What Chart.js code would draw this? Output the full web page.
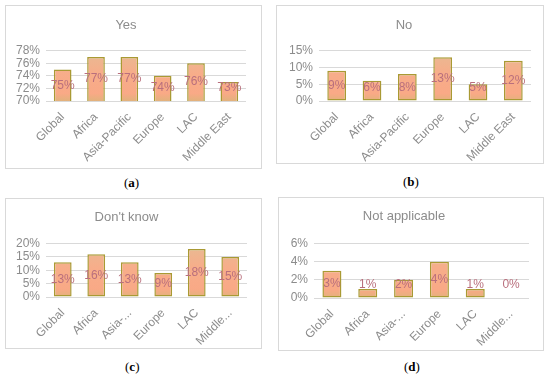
<!DOCTYPE html>
<html>
<head>
<meta charset="utf-8">
<script src="https://cdn.jsdelivr.net/npm/chart.js@4"></script>
<style>
  body { margin: 0; background: #fff; width: 550px; height: 377px; position: relative; overflow: hidden; }
  .box { position: absolute; border: 1px solid #d9d9d9; box-sizing: border-box; }
  .cap { position: absolute; font-family: "Liberation Serif", serif; font-size: 13px; color: #000; }
  .cap b { font-weight: bold; }
</style>
</head>
<body>
<div class="box" id="boxA" style="left:5px;top:5px;width:257px;height:164px;"><canvas id="chartA"></canvas></div>
<div class="box" id="boxB" style="left:276px;top:5px;width:268px;height:159px;"><canvas id="chartB"></canvas></div>
<div class="box" id="boxC" style="left:5px;top:198px;width:257px;height:151px;"><canvas id="chartC"></canvas></div>
<div class="box" id="boxD" style="left:278px;top:197px;width:266px;height:154px;"><canvas id="chartD"></canvas></div>
<div class="cap" style="left:124px;top:175px;">(<b>a</b>)</div>
<div class="cap" style="left:403px;top:174px;">(<b>b</b>)</div>
<div class="cap" style="left:125px;top:359px;">(<b>c</b>)</div>
<div class="cap" style="left:404px;top:359px;">(<b>d</b>)</div>
<script>
// regions
const regions = ['Global', 'Africa', 'Asia-Pacific', 'Europe', 'LAC', 'Middle East'];
const regionsShort = ['Global', 'Africa', 'Asia-...', 'Europe', 'LAC', 'Middle...'];

// percentages per answer
const yesValues = [75, 77, 77, 74, 76, 73];
const noValues = [9, 6, 8, 13, 5, 12];
const dontKnowValues = [13, 16, 13, 9, 18, 15];
const notApplicableValues = [3, 1, 2, 4, 1, 0];

// y axis ticks
const yesTicks = [70, 72, 74, 76, 78];
const noTicks = [0, 5, 10, 15];
const dontKnowTicks = [0, 5, 10, 15, 20];
const notApplicableTicks = [0, 2, 4, 6];

const FONT = '"Liberation Sans", Arial, sans-serif';
const GRAY = '#8c8c8c';

// value labels in the middle of the visible bar, kept a bit above the axis for short bars
const barLabels = {
  id: 'barLabels',
  afterDatasetsDraw(chart) {
    const ctx = chart.ctx;
    const meta = chart.getDatasetMeta(0);
    const axisY = chart.scales.y.bottom;
    ctx.save();
    ctx.font = '12px ' + FONT;
    ctx.fillStyle = '#b96f7d';
    ctx.textAlign = 'center';
    ctx.textBaseline = 'middle';
    meta.data.forEach(function (bar, i) {
      const v = chart.data.datasets[0].data[i];
      const base = Math.min(bar.base, axisY);
      let y = (bar.y + base) / 2;
      if (y > axisY - 13) y = axisY - 13;
      ctx.fillText(v + '%', bar.x, y);
    });
    ctx.restore();
  }
};

function makeChart(id, boxId, title, labels, values, ticks, lay) {
  const box = document.getElementById(boxId);
  const canvas = document.getElementById(id);
  canvas.width = box.clientWidth;
  canvas.height = box.clientHeight;

  return new Chart(canvas.getContext('2d'), {
    type: 'bar',
    data: {
      labels: labels,
      datasets: [{
        data: values,
        backgroundColor: function (context) {
          const area = context.chart.chartArea;
          if (!area) return '#f6ad88';
          const g = context.chart.ctx.createLinearGradient(0, area.top, 0, area.bottom);
          g.addColorStop(0, '#e7bb93');
          g.addColorStop(0.45, '#f7ad8a');
          g.addColorStop(0.85, '#f9a986');
          g.addColorStop(1, '#e2b27c');
          return g;
        },
        borderColor: '#a99a34',
        borderWidth: 1.5,
        borderSkipped: false,
        barPercentage: 0.53,
        categoryPercentage: 1
      }]
    },
    options: {
      responsive: false,
      animation: false,
      layout: { padding: { top: lay.top, right: lay.right, left: 0, bottom: 0 } },
      plugins: {
        legend: { display: false },
        tooltip: { enabled: false },
        title: {
          display: true,
          text: title,
          color: GRAY,
          font: { family: FONT, size: 13, weight: 'normal' },
          padding: { top: 0, bottom: lay.titleGap }
        }
      },
      scales: {
        x: {
          grid: { display: false },
          border: { display: false },
          ticks: {
            color: GRAY,
            font: { family: FONT, size: 12 },
            minRotation: 45,
            maxRotation: 45,
            autoSkip: false,
            padding: 1
          },
          afterFit: function (scale) { scale.height = lay.xHeight; }
        },
        y: {
          min: ticks[0],
          max: ticks[ticks.length - 1],
          afterBuildTicks: function (scale) {
            scale.ticks = ticks.map(function (v) { return { value: v }; });
          },
          grid: { color: '#d9d9d9', drawTicks: false },
          border: { display: false },
          ticks: {
            color: GRAY,
            autoSkip: false,
            font: { family: FONT, size: 12 },
            padding: 6,
            callback: function (v) { return v + '%'; }
          },
          afterFit: function (scale) { scale.width = lay.yWidth; }
        }
      }
    },
    plugins: [barLabels]
  });
}

makeChart('chartA', 'boxA', 'Yes', regions, yesValues, yesTicks,
  { top: 12, titleGap: 17, right: 15, xHeight: 67, yWidth: 40 });
makeChart('chartB', 'boxB', 'No', regions, noValues, noTicks,
  { top: 12, titleGap: 17, right: 12, xHeight: 62, yWidth: 42 });
makeChart('chartC', 'boxC', "Don't know", regionsShort, dontKnowValues, dontKnowTicks,
  { top: 11, titleGap: 18, right: 14, xHeight: 51, yWidth: 40 });
makeChart('chartD', 'boxD', 'Not applicable', regionsShort, notApplicableValues, notApplicableTicks,
  { top: 11, titleGap: 19, right: 14, xHeight: 52, yWidth: 35 });
</script>
</body>
</html>
